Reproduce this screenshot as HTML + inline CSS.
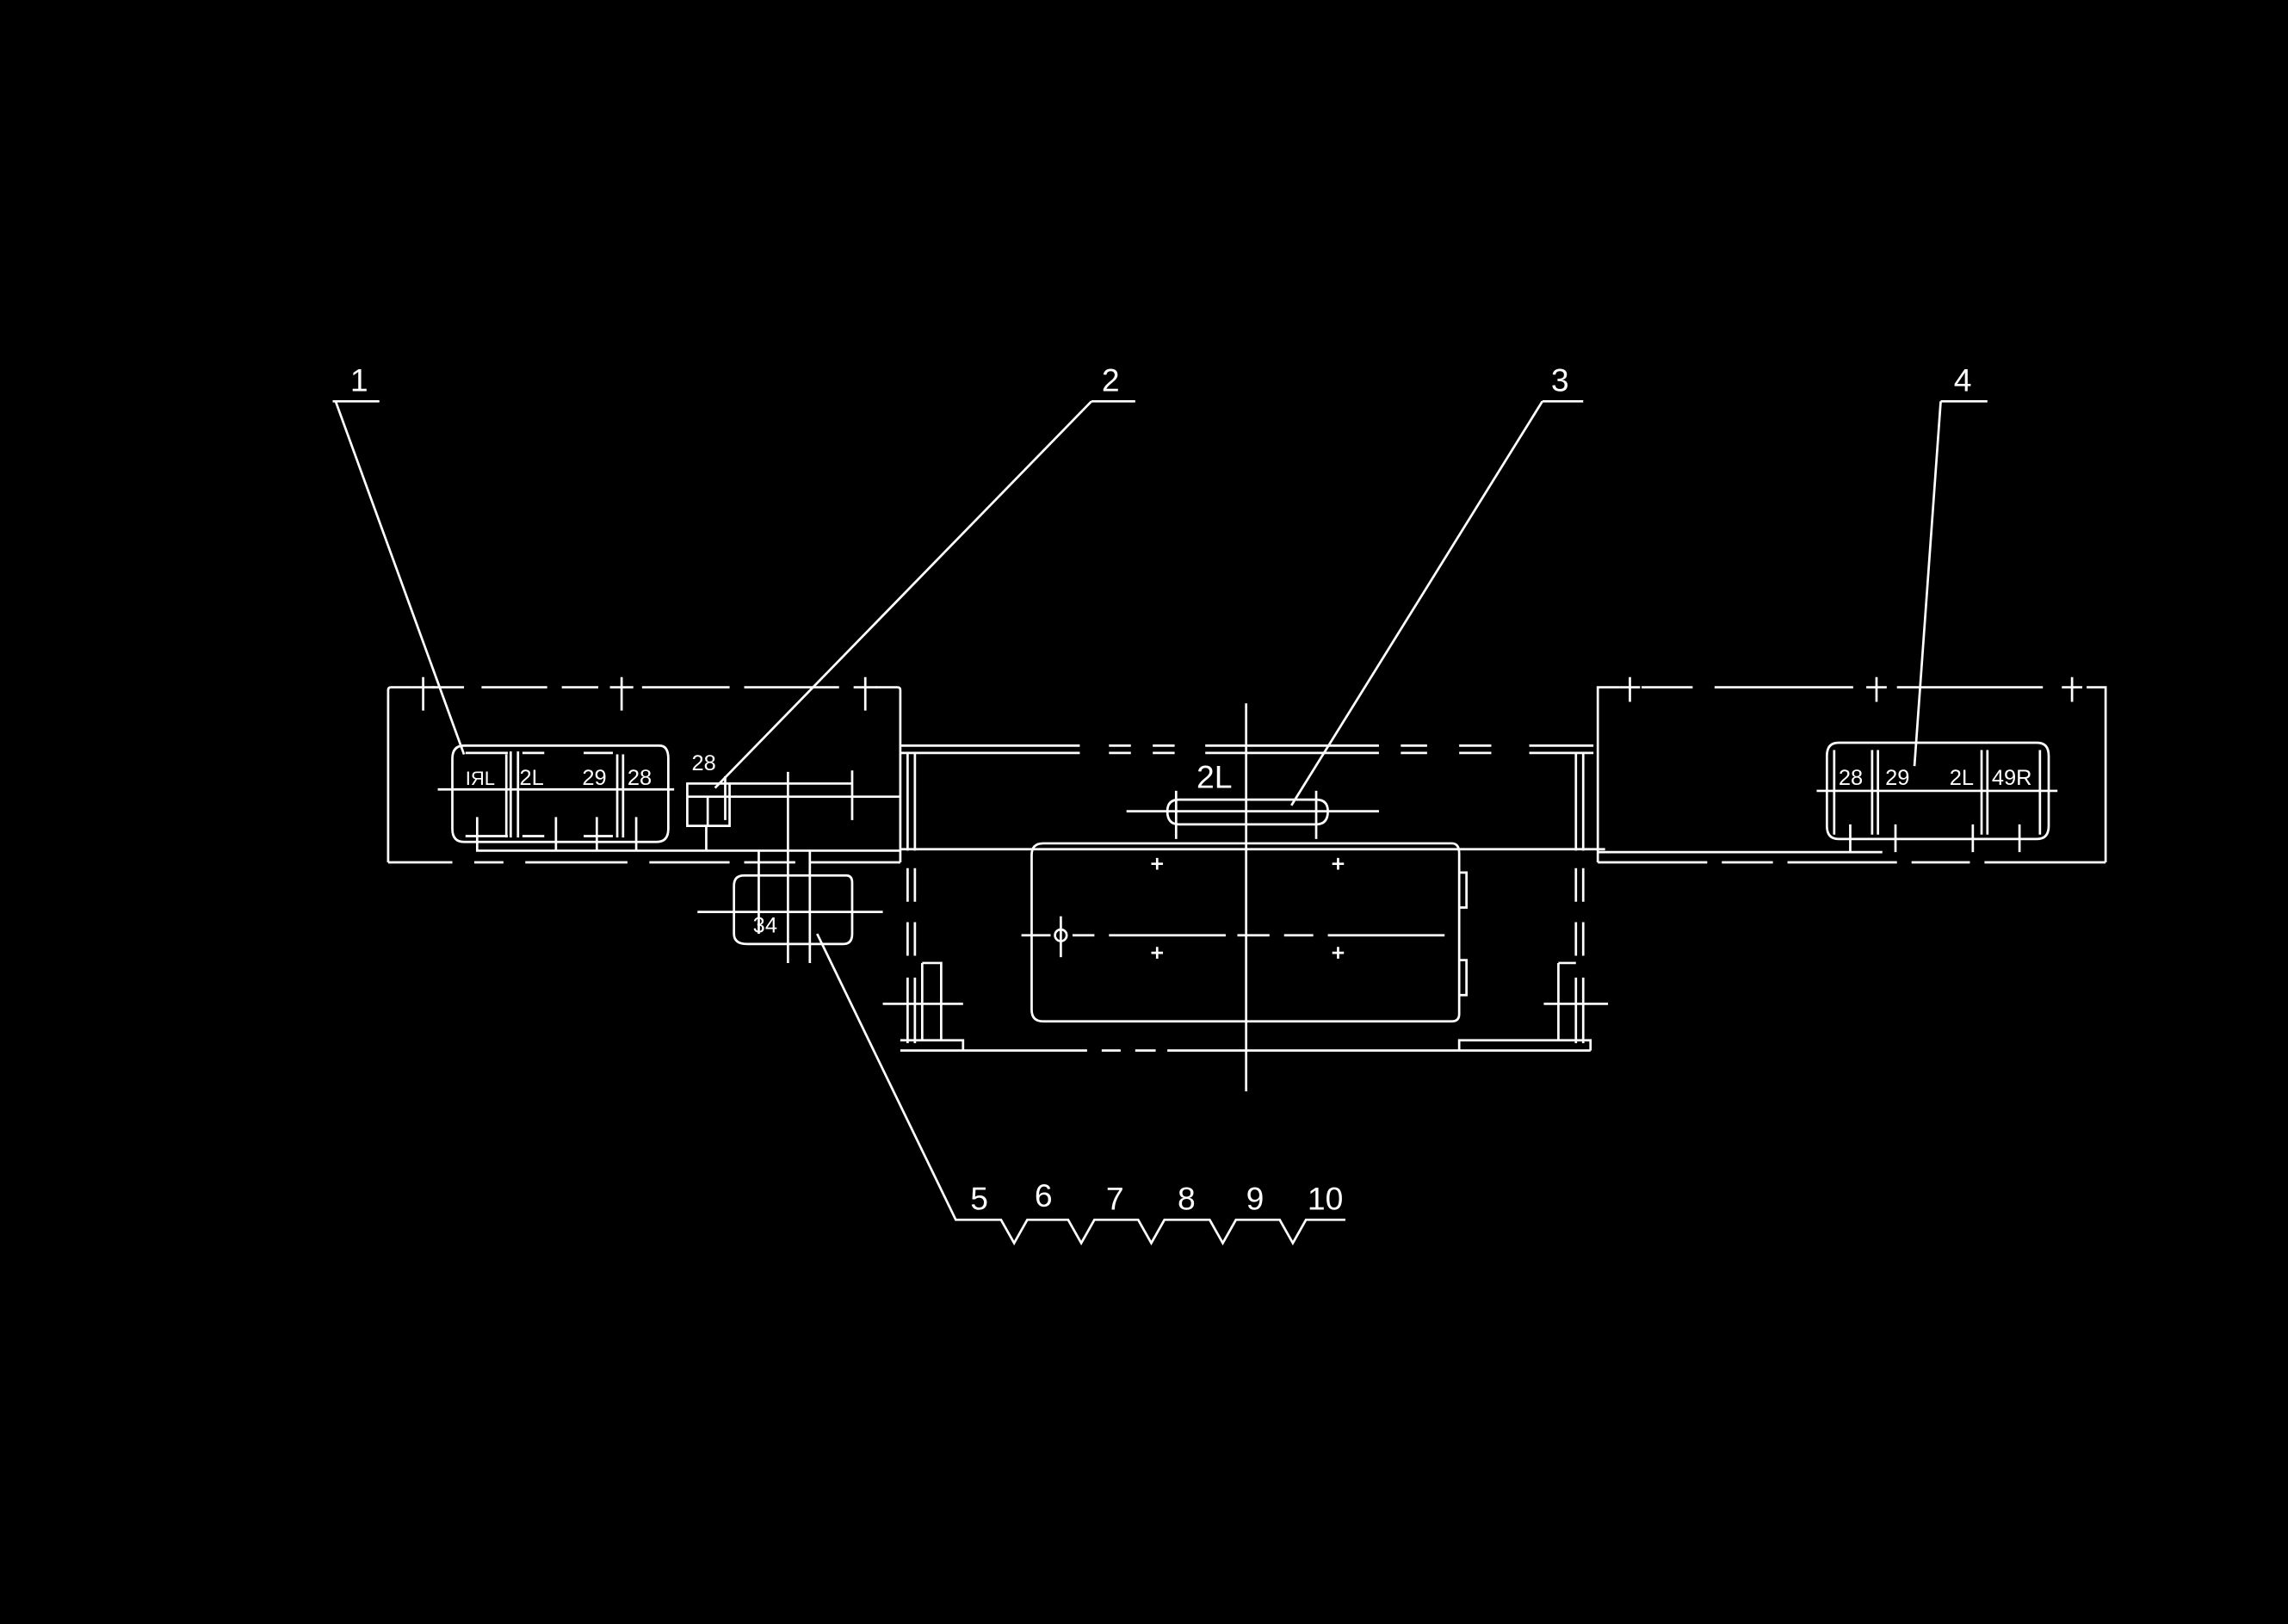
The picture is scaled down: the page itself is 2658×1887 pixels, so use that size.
<!DOCTYPE html>
<html><head><meta charset="utf-8"><style>
html,body{margin:0;padding:0;background:#000;}
svg{display:block;}
text{font-family:"Liberation Sans",sans-serif;fill:#fff;}
</style></head><body>
<svg width="2658" height="1887" viewBox="0 0 1568 1113" xmlns="http://www.w3.org/2000/svg">
<rect width="1568" height="1113" fill="#000"/>
<g stroke="#fff" stroke-width="1.6" fill="none">
<path d="M266,591 V473 Q266,471 268,471 H282"/>
<path d="M617,591 V473 Q617,471 615,471"/>
<path d="M296,471 H318 M330,471 H375 M385,471 H410 M440,471 H500 M510,471 H575 M600,471 H615" />
<path d="M266,591 H310 M325,591 H345 M360,591 H430 M445,591 H500 M510,591 H545 M555,591 H617"/>
<path d="M290,464 V487 M282,471 H298 M426,464 V487 M418,471 H434 M593,464 V487 M585,471 H601"/>
<path d="M310,520 Q310,511 318,511 H452 Q458,511 458,520 V568 Q458,577 450,577 H318 Q310,577 310,568 Z"/>
<path d="M350,515 V574 M355,515 V574 M423,517 V574 M427,517 V574 M347,517 V574 M319,516 H348 M319,573 H348 M358,516 H373 M358,573 H373 M400,516 H420 M400,573 H420"/>
<path d="M300,541 H462"/>
<path d="M327,560 V583 H617 M381,560 V583 M409,560 V583 M436,560 V583"/>
<path d="M471,537 H500 V566 H471 Z M471,546 H500 M485,546 V566"/>
<path d="M500,537 H584 M500,546 H617 M540,529 V660 M584,528 V562 M497,532 V562 M484,566 V583"/>
<path d="M510,600 H580 Q584,600 584,605 V640 Q584,647 578,647 H512 Q503,647 503,640 V607 Q503,600 510,600 Z"/>
<path d="M478,625 H605 M520,583 V640 M555,583 V660"/>
<path d="M617,511 H740 M760,511 H775 M790,511 H805 M826,511 H945 M960,511 H978 M1000,511 H1022 M1048,511 H1092 M617,516 H740 M760,516 H775 M790,516 H805 M826,516 H945 M960,516 H978 M1000,516 H1022 M1048,516 H1092"/>
<path d="M622,516 V583 M627,516 V583 M1080,516 V583 M1085,516 V583"/>
<path d="M622,595 V618 M627,595 V618 M622,632 V655 M627,632 V655 M622,670 V715 M627,670 V715"/>
<path d="M1080,595 V618 M1085,595 V618 M1080,632 V655 M1085,632 V655 M1080,670 V715 M1085,670 V715"/>
<path d="M617,582 H1100"/>
<path d="M617,720 H745 M755,720 H768 M778,720 H792 M800,720 H1090"/>
<path d="M617,713 H660 V720 M1000,720 V713 H1090 V720"/>
<path d="M632,660 H645 V713 M632,660 V713 M605,688 H660"/>
<path d="M1068,660 H1080 M1068,660 V713 M1058,688 H1102"/>
<path d="M715,578 H995 Q1000,578 1000,585 V695 Q1000,700 995,700 H715 Q707,700 707,692 V586 Q707,578 715,578 Z"/>
<path d="M1000,598 H1005 V622 H1000 M1000,658 H1005 V682 H1000"/>
<path d="M854,482 V748"/>
<path d="M700,641 H720 M735,641 H750 M760,641 H840 M848,641 H870 M880,641 H900 M910,641 H990"/>
<circle cx="727" cy="641" r="4"/>
<path d="M727,628 V656"/>
<path d="M793,588 V596 M789,592 H797 M917,588 V596 M913,592 H921 M793,649 V657 M789,653 H797 M917,649 V657 M913,653 H921"/>
<path d="M808,548 H902 Q910,548 910,556 Q910,565 902,565 H808 Q800,565 800,556 Q800,548 808,548 Z"/>
<path d="M772,556 H945 M806,542 V575 M902,542 V575"/>
<path d="M1095,591 V471 H1110 M1125,471 H1160 M1175,471 H1270 M1300,471 H1400 M1430,471 H1443 V591"/>
<path d="M1095,591 H1170 M1180,591 H1215 M1225,591 H1300 M1310,591 H1350 M1360,591 H1443"/>
<path d="M1117,464 V481 M1110,471 H1124 M1286,464 V481 M1279,471 H1293 M1420,464 V481 M1413,471 H1427"/>
<path d="M1095,584 H1290"/>
<path d="M1260,509 H1396 Q1404,509 1404,518 V566 Q1404,575 1396,575 H1260 Q1252,575 1252,566 V518 Q1252,509 1260,509 Z"/>
<path d="M1257,514 V572 M1283,514 V572 M1287,514 V572 M1358,514 V572 M1362,514 V572 M1398,514 V572"/>
<path d="M1245,542 H1410 M1268,565 V584 M1299,565 V584 M1352,565 V584 M1384,565 V584"/>
<path d="M228,275 H260 M230,275 L318,517"/>
<path d="M748,275 H778 M748,275 L490,540"/>
<path d="M1057,275 H1085 M1057,275 L885,552"/>
<path d="M1330,275 H1362 M1330,275 L1312,525"/>
<path d="M560,640 L655,836 H686 L695,852 L704,836 H732 L741,852 L750,836 H780 L789,852 L798,836 H829 L838,852 L847,836 H877 L886,852 L895,836 H922"/>
</g>
<g font-size="22">
<text x="240" y="268">1</text>
<text x="755" y="268">2</text>
<text x="1063" y="268">3</text>
<text x="1339" y="268">4</text>
<text x="665" y="829">5</text>
<text x="709" y="827">6</text>
<text x="758" y="829">7</text>
<text x="807" y="829">8</text>
<text x="854" y="829">9</text>
<text x="896" y="829">10</text>
<text x="820" y="540" font-size="22">2L</text>
</g>
<g font-size="15">
<text x="319" y="538" font-size="13">IЯL</text>
<text x="356" y="538">2L</text>
<text x="399" y="538">29</text>
<text x="430" y="538">28</text>
<text x="474" y="528">28</text>
<text x="516" y="639">34</text>
<text x="1260" y="538">28</text>
<text x="1292" y="538">29</text>
<text x="1336" y="538">2L</text>
<text x="1365" y="538">49R</text>
</g>
</svg>
</body></html>
